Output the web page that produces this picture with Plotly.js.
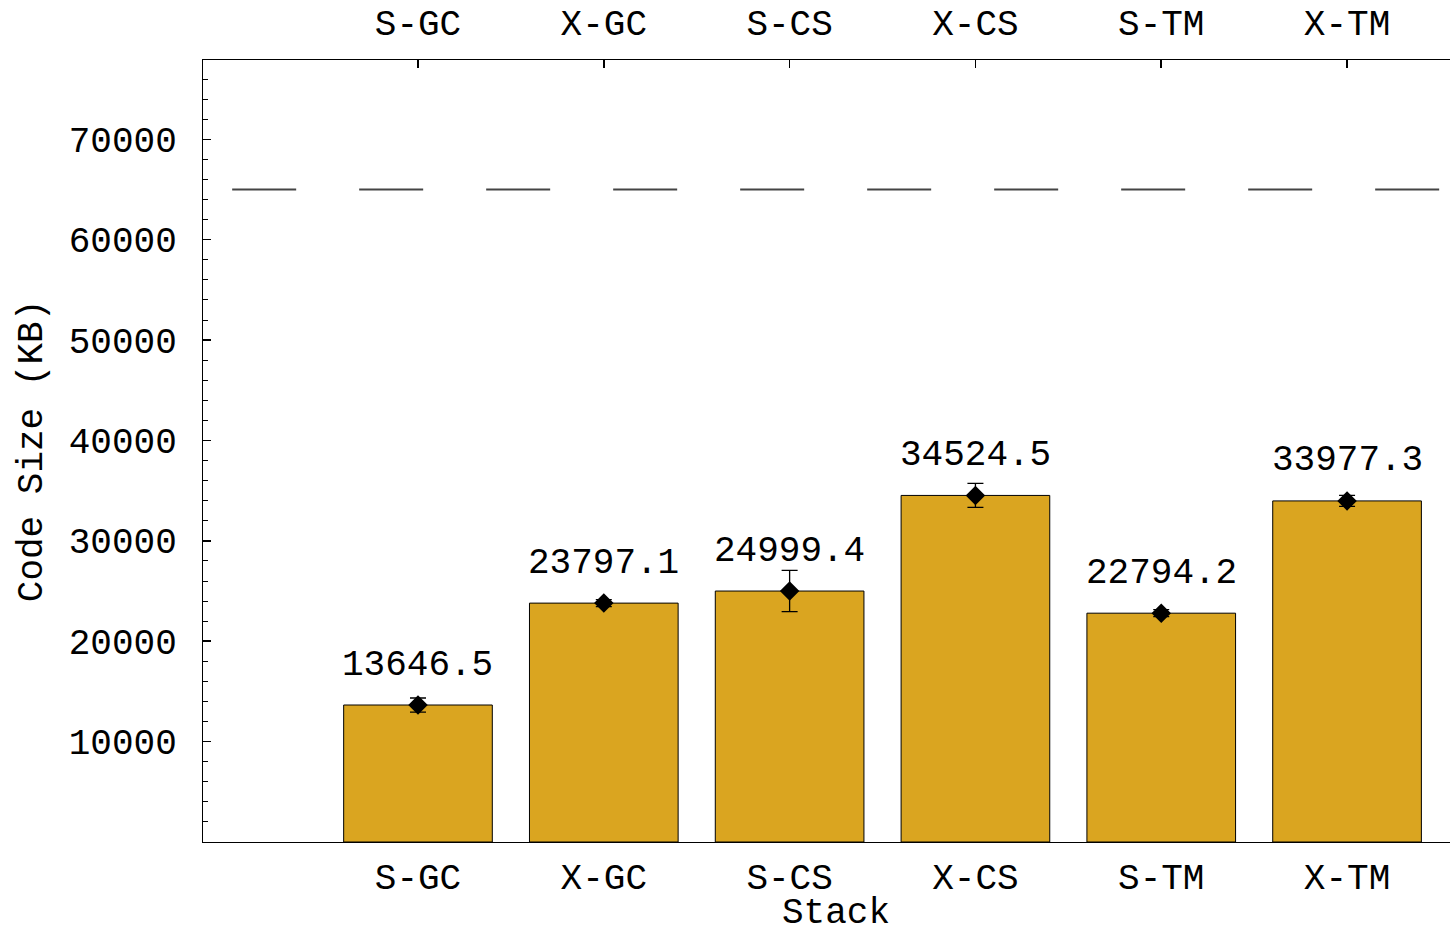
<!DOCTYPE html>
<html>
<head>
<meta charset="utf-8">
<script src="https://cdn.plot.ly/plotly-3.0.1.min.js"></script>
<style>html,body{margin:0;padding:0;background:#fff;overflow:hidden}</style>
</head>
<body>
<div id="chart" style="width:1450px;height:928px"></div>
<script>
const stacks = ["S-GC", "X-GC", "S-CS", "X-CS", "S-TM", "X-TM"];
const codeSize = [13646.5, 23797.1, 24999.4, 34524.5, 22794.2, 33977.3];
const codeSizeErr = [700, 350, 2050, 1200, 350, 550];
const limitValue = [65000, 65000];
const limitSpan = [-1, 5.5];
const yTicks = [10000, 20000, 30000, 40000, 50000, 60000, 70000];
const yTickText = ["10000", "20000", "30000", "40000", "50000", "60000", "70000"];
const xTitle = "Stack";
const yTitle = "Code Size (KB)";

const positions = stacks.map((_, i) => i);
const FONT = "Liberation Mono, Courier New, monospace";
const FS = 36;

const traces = [
  {
    type: "bar", x: positions, y: codeSize, width: 0.8,
    marker: {color: "#DAA520", line: {color: "#000", width: 1}},
    hoverinfo: "skip", showlegend: false
  },
  {
    type: "scatter", mode: "markers", x: positions, y: codeSize,
    marker: {symbol: "diamond", size: 15, color: "#000"},
    error_y: {type: "data", array: codeSizeErr, visible: true, color: "#000", thickness: 1.3, width: 8},
    showlegend: false
  },
  {
    type: "scatter", mode: "lines", x: limitSpan, y: limitValue, xaxis: "x2",
    line: {color: "#444", width: 1.8, dash: "64px,63px"},
    showlegend: false, hoverinfo: "skip"
  }
];

const annotations = codeSize.map((v, i) => ({
  x: positions[i], y: v, xref: "x", yref: "y",
  text: v.toFixed(1), showarrow: false, yshift: 40,
  font: {family: FONT, size: FS, color: "#000"}
}));
annotations.push({
  x: 0.5076, y: -0.092, xref: "paper", yref: "paper",
  xanchor: "center", yanchor: "middle",
  text: xTitle, showarrow: false,
  font: {family: FONT, size: FS, color: "#000"}
});

const xr = [-1.157, 5.554];
const layout = {
  width: 1450, height: 928,
  margin: {l: 203, r: 0, t: 60, b: 86, pad: 0},
  paper_bgcolor: "#fff", plot_bgcolor: "#fff",
  font: {family: FONT, size: FS, color: "#000"},
  showlegend: false,
  bargap: 0.2,
  xaxis: {
    range: xr, tickvals: positions, ticktext: stacks,
    showline: true, linecolor: "#000", linewidth: 1,
    ticks: "", showgrid: false, zeroline: false,
    ticklabelstandoff: 3,
    automargin: false
  },
  xaxis2: {
    range: xr, overlaying: "x", side: "top", tickvals: positions, ticktext: stacks,
    showline: true, linecolor: "#000", linewidth: 1,
    ticks: "inside", ticklen: 8, tickcolor: "#000", tickwidth: 1.5,
    showgrid: false, zeroline: false, ticklabelstandoff: 10, automargin: false
  },
  yaxis: {
    range: [0, 77900], tickvals: yTicks, ticktext: yTickText,
    showline: true, linecolor: "#000", linewidth: 1,
    ticks: "inside", ticklen: 8, tickcolor: "#000", tickwidth: 1.5,
    minor: {dtick: 2000, tick0: 0, ticks: "inside", ticklen: 5, tickcolor: "#000", tickwidth: 1},
    showgrid: false, zeroline: false, ticklabelstandoff: 18,
    title: {text: yTitle, font: {family: FONT, size: FS}, standoff: 15},
    automargin: false
  },
  annotations: annotations
};

Plotly.newPlot("chart", traces, layout, {displayModeBar: false, staticPlot: true});
</script>
</body>
</html>
